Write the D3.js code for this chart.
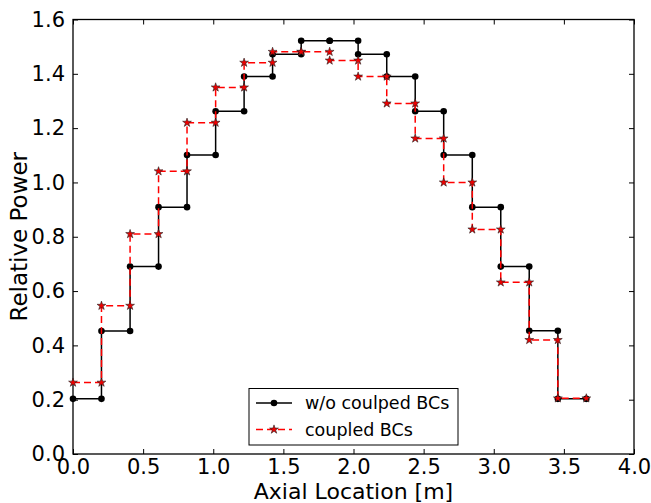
<!DOCTYPE html>
<html>
<head>
<meta charset="utf-8">
<script src="https://cdn.jsdelivr.net/npm/d3@7"></script>
<style>
  body { margin: 0; background: #fff; }
  text { font-family: "DejaVu Sans", sans-serif; fill: #000; }
</style>
</head>
<body>
<div id="chart"></div>
<script>
// cell boundaries along the axis [m]
const nodes = [0, 0.203, 0.407, 0.61, 0.813, 1.017, 1.22, 1.423, 1.627, 1.83,
  2.033, 2.237, 2.44, 2.643, 2.847, 3.05, 3.253, 3.457, 3.66]

// relative power per cell
const uncoupled = [0.203, 0.453, 0.69, 0.909, 1.101, 1.262, 1.39, 1.472, 1.522,
  1.522, 1.472, 1.39, 1.262, 1.101, 0.909, 0.69, 0.454, 0.203]
const coupled = [0.263, 0.546, 0.81, 1.041, 1.22, 1.35, 1.441, 1.481, 1.481,
  1.449, 1.39, 1.291, 1.162, 1.0, 0.827, 0.632, 0.42, 0.205]

const xTicks = [0, 0.5, 1, 1.5, 2, 2.5, 3, 3.5, 4]
const yTicks = [0, 0.2, 0.4, 0.6, 0.8, 1.0, 1.2, 1.4, 1.6]

const margin = { top: 19.5, left: 73, right: 17, bottom: 49 }
const width = 651 - margin.left - margin.right
const height = 503 - margin.top - margin.bottom

const svg = d3
  .select('#chart')
  .append('svg')
  .attr('width', 651)
  .attr('height', 503)
  .append('g')
  .attr('transform', 'translate(' + margin.left + ',' + margin.top + ')')

const x = d3.scaleLinear().domain([0, 4]).range([0, width])
const y = d3.scaleLinear().domain([0, 1.6]).range([height, 0])

// axes: ticks pointing inward on all four sides
const tickLen = 5
svg.append('g')
  .attr('transform', `translate(0,${height})`)
  .call(d3.axisBottom(x).tickValues(xTicks).tickFormat(d3.format('.1f')).tickSizeInner(-tickLen).tickSizeOuter(0).tickPadding(5))
svg.append('g')
  .call(d3.axisTop(x).tickValues(xTicks).tickFormat('').tickSizeInner(-tickLen).tickSizeOuter(0))
svg.append('g')
  .call(d3.axisLeft(y).tickValues(yTicks).tickFormat(d3.format('.1f')).tickSizeInner(-tickLen).tickSizeOuter(0).tickPadding(8))
svg.append('g')
  .attr('transform', `translate(${width},0)`)
  .call(d3.axisRight(y).tickValues(yTicks).tickFormat('').tickSizeInner(-tickLen).tickSizeOuter(0))

svg.selectAll('.domain').remove()
svg.selectAll('.tick line').attr('stroke', '#000').attr('stroke-width', 1)
svg.selectAll('.tick text').style('font-size', '21px').attr('fill', '#111')

svg.append('rect')
  .attr('width', width)
  .attr('height', height)
  .attr('fill', 'none')
  .attr('stroke', '#000')
  .attr('stroke-width', 1.3)

svg.append('text')
  .attr('x', width / 2)
  .attr('y', height + 45)
  .attr('text-anchor', 'middle')
  .style('font-size', '22px')
  .text('Axial Location [m]')

svg.append('text')
  .attr('transform', `translate(-46,${height / 2}) rotate(-90)`)
  .attr('text-anchor', 'middle')
  .style('font-size', '23px')
  .text('Relative Power')

// turn per-cell values into step points (start and end of each cell)
function steps(values) {
  const pts = []
  values.forEach((v, i) => {
    pts.push([nodes[i], v])
    pts.push([nodes[i + 1], v])
  })
  return pts
}

const line = d3.line().x(d => x(d[0])).y(d => y(d[1]))
const star = d3.symbol().type(d3.symbolStar).size(24)

const blackPts = steps(uncoupled)
svg.append('path')
  .datum(blackPts)
  .attr('d', line)
  .attr('fill', 'none')
  .attr('stroke', '#000')
  .attr('stroke-width', 1.5)
svg.append('g')
  .selectAll('circle')
  .data(blackPts)
  .enter()
  .append('circle')
  .attr('cx', d => x(d[0]))
  .attr('cy', d => y(d[1]))
  .attr('r', 3.3)
  .attr('fill', '#000')

const redPts = steps(coupled)
svg.append('path')
  .datum(redPts)
  .attr('d', line)
  .attr('fill', 'none')
  .attr('stroke', '#ff0000')
  .attr('stroke-width', 1.5)
  .attr('stroke-dasharray', '7,4')
svg.append('g')
  .selectAll('path')
  .data(redPts)
  .enter()
  .append('path')
  .attr('d', star)
  .attr('transform', d => `translate(${x(d[0])},${y(d[1])})`)
  .attr('fill', '#ee0000')
  .attr('stroke', '#222')
  .attr('stroke-width', 0.6)

// legend
const lg = svg.append('g').attr('transform', `translate(${249 - margin.left},${388.5 - margin.top})`)
lg.append('rect')
  .attr('width', 209)
  .attr('height', 56.5)
  .attr('fill', '#fff')
  .attr('stroke', '#000')
  .attr('stroke-width', 1)

const entries = [
  { label: 'w/o coulped BCs', color: '#000', dash: null, marker: 'circle' },
  { label: 'coupled BCs', color: '#ff0000', dash: '7,4', marker: 'star' }
]
entries.forEach((e, i) => {
  const cy = 14.5 + i * 26.5
  lg.append('line')
    .attr('x1', 7).attr('x2', 43)
    .attr('y1', cy).attr('y2', cy)
    .attr('stroke', e.color)
    .attr('stroke-width', 1.5)
    .attr('stroke-dasharray', e.dash)
  if (e.marker === 'circle') {
    lg.append('circle').attr('cx', 25).attr('cy', cy).attr('r', 3.3).attr('fill', '#000')
  } else {
    lg.append('path').attr('d', star).attr('transform', `translate(25,${cy})`)
      .attr('fill', '#ee0000').attr('stroke', '#222').attr('stroke-width', 0.6)
  }
  lg.append('text')
    .attr('x', 56)
    .attr('y', cy + 6)
    .style('font-size', '17.5px')
    .text(e.label)
})
</script>
</body>
</html>
